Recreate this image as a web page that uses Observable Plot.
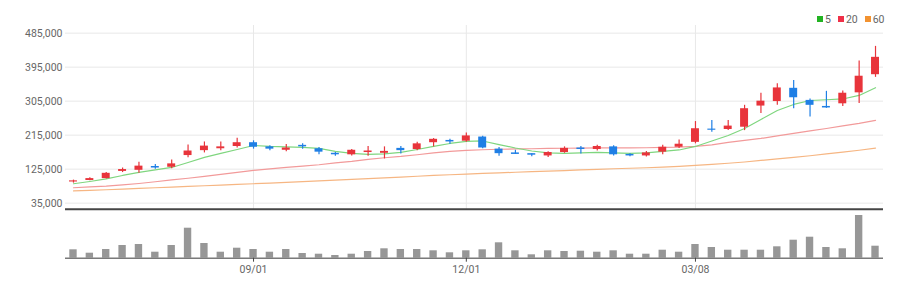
<!DOCTYPE html>
<html>
<head>
<meta charset="utf-8">
<script src="https://cdn.jsdelivr.net/npm/d3@7"></script>
<script src="https://cdn.jsdelivr.net/npm/@observablehq/plot@0.6"></script>
<style>
  body { margin: 0; background: #fff; font-family: Roboto, "Noto Sans", sans-serif; }
  #wrap { position: relative; width: 908px; height: 290px; overflow: hidden; }
  #price { position: absolute; left: 0; top: 0; }
  #vol { position: absolute; left: 0; top: 210px; }
  #legend { position: absolute; left: 817px; top: 13px; height: 12px; display: flex; align-items: center;
            font-size: 10.5px; color: #666; z-index: 2; }
  #legend .sw { display: inline-block; width: 6px; height: 6px; margin-right: 2px; }
  #legend .it { display: flex; align-items: center; margin-right: 7px; }
</style>
</head>
<body>
<div id="wrap">
  <div id="price"></div>
  <div id="vol"></div>
  <div id="legend"></div>
</div>
<script>
// ---- data (weekly candles) ----
const opens  = [91000, 95000, 100000, 119000, 122000, 132000, 130000, 161000, 174000, 179000, 185000, 195000, 184000, 175000, 188000, 179000, 167000, 163000, 169000, 167000, 180000, 177000, 195000, 201000, 199000, 210000, 178000, 168000, 166000, 160000, 169000, 181000, 177000, 184000, 164000, 160000, 170000, 183000, 196000, 231000, 230000, 236000, 292000, 304000, 339000, 307000, 291000, 298000, 327000, 375000];
const closes = [94000, 100000, 114000, 124000, 133000, 128000, 139000, 173000, 186000, 184000, 195000, 183000, 178000, 181000, 184000, 170000, 163000, 175000, 173000, 172000, 174000, 192000, 204000, 197000, 213000, 181000, 166000, 164000, 162000, 169000, 180000, 177000, 185000, 163000, 160000, 168000, 183000, 191000, 232000, 228000, 239000, 285000, 305000, 340000, 314000, 294000, 287000, 326000, 371000, 421000];
const highs  = [96000, 102000, 116000, 128000, 143000, 137000, 149000, 189000, 197000, 197000, 207000, 200000, 187000, 190000, 192000, 182000, 169000, 177000, 185000, 184000, 185000, 196000, 206000, 204000, 221000, 212000, 182000, 175000, 166000, 171000, 184000, 185000, 188000, 187000, 166000, 172000, 188000, 202000, 251000, 254000, 254000, 294000, 326000, 351000, 360000, 311000, 331000, 332000, 411000, 450000];
const lows   = [88000, 94000, 99000, 116000, 114000, 125000, 126000, 155000, 168000, 174000, 181000, 178000, 174000, 171000, 178000, 163000, 159000, 160000, 159000, 152000, 165000, 174000, 184000, 191000, 196000, 179000, 159000, 164000, 158000, 156000, 167000, 165000, 173000, 160000, 158000, 157000, 163000, 180000, 192000, 223000, 227000, 227000, 272000, 294000, 285000, 263000, 286000, 291000, 299000, 368000];
const volumes = [84000, 50000, 87000, 127000, 137000, 60000, 127000, 300000, 147000, 60000, 100000, 87000, 60000, 87000, 47000, 40000, 27000, 40000, 67000, 94000, 87000, 87000, 74000, 54000, 74000, 84000, 154000, 74000, 34000, 74000, 67000, 70000, 60000, 74000, 40000, 40000, 80000, 60000, 137000, 107000, 80000, 80000, 80000, 114000, 180000, 210000, 107000, 94000, 427000, 120000];
const ma5  = [86400, 92400, 99100, 108300, 116300, 122900, 129500, 142700, 156000, 166600, 177100, 187700, 185100, 183800, 182400, 179800, 171900, 166600, 163900, 165200, 169200, 177100, 185100, 193000, 198300, 199600, 190000, 181000, 173000, 168000, 166600, 167900, 169200, 167900, 166600, 167900, 171900, 175800, 185100, 199600, 214200, 232700, 256600, 280400, 296300, 306800, 308700, 310800, 320100, 340500];
const ma20 = [75800, 77900, 80000, 83200, 87100, 91600, 96400, 100900, 105700, 111000, 116300, 121600, 125500, 129500, 132900, 136600, 141400, 145400, 150700, 155200, 158600, 163100, 167900, 171900, 174500, 176400, 177700, 178500, 179000, 179800, 180300, 180800, 181100, 181100, 181100, 181600, 182400, 183200, 185100, 189100, 195700, 201000, 206300, 212900, 219500, 226100, 232700, 239400, 246000, 253900];
const ma60 = [67300, 68900, 70500, 72300, 73900, 75800, 77600, 79500, 81100, 82900, 84500, 86400, 87900, 89800, 91900, 93800, 95900, 98000, 100100, 102000, 104100, 106200, 108300, 110200, 112000, 113600, 115200, 116800, 118400, 119700, 121300, 122900, 124500, 126100, 127400, 128700, 130300, 132100, 134800, 137400, 140600, 144000, 148000, 152000, 156000, 160500, 165200, 170000, 175000, 180600];
const yTicks = [35000, 125000, 215000, 305000, 395000, 485000];
const tickIdx = [11, 24, 38];
const tickLabels = ["09/01", "12/01", "03/08"];
const legendNames = ["5", "20", "60"];
const legendColors = ["#22b322", "#ef3048", "#f29230"];

// ---- build ----
const RED = "#e8343b", BLUE = "#1f7fe5";
const idx = d3.range(opens.length);
const rows = idx.map(i => ({
  i, o: opens[i], c: closes[i], h: highs[i], l: lows[i], v: volumes[i],
  m5: ma5[i], m20: ma20[i], m60: ma60[i],
  col: closes[i] >= opens[i] ? RED : BLUE
}));
const xScale = {type: "band", domain: idx, padding: 0, round: false, range: [64.8, 883.2], axis: null, label: null};
const font = {fontFamily: "Roboto, 'Noto Sans', sans-serif", fontSize: "10.5px", color: "#666", background: "transparent", overflow: "visible"};

const price = Plot.plot({
  width: 908, height: 210,
  marginLeft: 65, marginRight: 25, marginTop: 25, marginBottom: 1,
  x: xScale,
  y: {domain: [19000, 505000], range: [208.7, 25.1], axis: null, label: null},
  color: {type: "identity"},
  style: font,
  marks: [
    Plot.gridY(yTicks, {stroke: "#e8e8e8", strokeOpacity: 1}),
    Plot.gridX(tickIdx, {stroke: "#e8e8e8", strokeOpacity: 1}),
    Plot.axisY(yTicks, {tickSize: 0, tickPadding: 3, tickFormat: d3.format(","), fill: "#666", label: null}),
    Plot.lineY(rows, {x: "i", y: "m60", stroke: "#f6b683", strokeWidth: 1.2}),
    Plot.lineY(rows, {x: "i", y: "m20", stroke: "#f29a9a", strokeWidth: 1.2}),
    Plot.lineY(rows, {x: "i", y: "m5", stroke: "#7fd67f", strokeWidth: 1.2}),
    Plot.ruleX(rows, {x: "i", y1: "l", y2: "h", stroke: "col", strokeWidth: 1.2}),
    Plot.barY(rows, {x: "i", y1: "o", y2: "c", fill: "col", insetLeft: 4.2, insetRight: 4.2}),
    Plot.ruleY([19000], {stroke: "#454545", strokeWidth: 2})
  ]
});
document.getElementById("price").appendChild(price);

const vol = Plot.plot({
  width: 908, height: 80,
  marginLeft: 65, marginRight: 25, marginTop: 2, marginBottom: 32.3,
  x: xScale,
  y: {domain: [0, 450000], range: [47.7, 2.7], axis: null, label: null},
  style: font,
  marks: [
    Plot.barY(rows, {x: "i", y: "v", fill: "#979797", insetLeft: 4.5, insetRight: 4.5}),
    Plot.ruleY([0], {stroke: "#7a7a7a", strokeWidth: 1.5}),
    Plot.axisX(tickIdx, {anchor: "bottom", tickSize: 4, tickPadding: 3, stroke: "#444", label: null,
      tickFormat: i => tickLabels[tickIdx.indexOf(i)], fill: "#666"})
  ]
});
document.getElementById("vol").appendChild(vol);

const lg = document.getElementById("legend");
legendNames.forEach((n, k) => {
  const it = document.createElement("span");
  it.className = "it";
  const sw = document.createElement("span");
  sw.className = "sw";
  sw.style.background = legendColors[k];
  it.appendChild(sw);
  it.appendChild(document.createTextNode(n));
  lg.appendChild(it);
});
</script>
</body>
</html>
